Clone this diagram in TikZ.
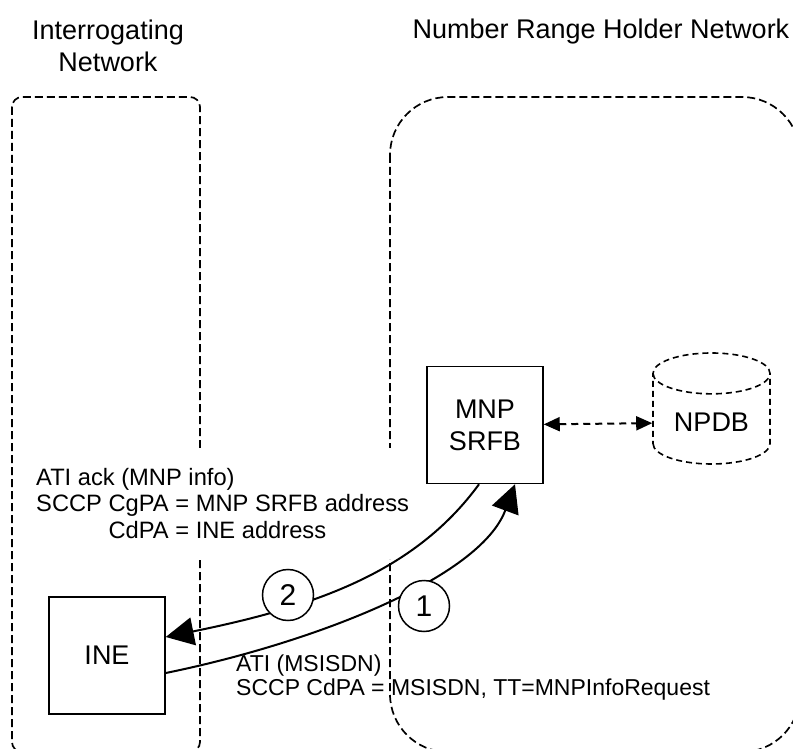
\documentclass[tikz,border=0pt]{standalone}
\usepackage{fontspec}
\setmainfont{Liberation Sans}
\usetikzlibrary{positioning,arrows.meta,shapes.geometric}

\newcommand\titlesize{\fontsize{27}{32}\selectfont}
\newcommand\boxsize{\fontsize{27}{32}\selectfont}
\newcommand\msgsize{\fontsize{23.7}{26.5}\selectfont}

\begin{document}
\begin{tikzpicture}[
  x=1pt, y=-1pt,
  region/.style={draw, line width=1.7pt, dash pattern=on 8pt off 4pt},
  element/.style={rectangle, draw, line width=1.5pt, minimum width=116pt,
                  minimum height=117pt, align=center, font=\boxsize},
  database/.style={cylinder, shape border rotate=90, aspect=0.5, draw,
                   line width=1.6pt, dash pattern=on 6pt off 4pt,
                   minimum width=117pt, minimum height=111pt, font=\boxsize},
  msg/.style={align=left, font=\msgsize, inner sep=0pt},
  seqnum/.style={circle, draw, fill=white, line width=1.5pt, minimum size=51pt,
                 inner sep=0pt, font=\fontsize{30}{30}\selectfont},
  flow/.style={line width=2pt, -{Triangle[length=28pt,width=28pt]}},
  >={Triangle[length=16pt,width=14pt]}
]
  \clip (0,0) rectangle (793,749);

  % network domains
  \draw[region, rounded corners=10pt] (12,97) rectangle (200,752);
  \draw[region, rounded corners=58pt] (390,97) rectangle (800,752);

  \node[font=\titlesize, align=center] (intnet) at (108,46) {Interrogating\\Network};
  \node[font=\titlesize, anchor=base] (nrhnet) at (601,39) {Number Range Holder Network};

  \node[element] (mnp) at (485,425) {MNP\\SRFB};
  \node[database] (npdb) at (711.5,422.5) {NPDB};
  \node[element] (ine) at (107,655.5) {INE};

  \draw[<->, line width=2pt, dash pattern=on 7pt off 5pt] (mnp) -- (npdb);

  \node[msg, fill=white, inner xsep=8pt, inner ysep=20pt, anchor=west] (ackmsg) at (28,503.5)
    {ATI ack (MNP info)\\SCCP CgPA = MNP SRFB address\\\hphantom{SCCP }CdPA = INE address};

  % request and answer
  \draw[flow] ([yshift=-17.5pt]ine.east) .. controls +(147,-30) and +(-35,94) .. ([xshift=30pt]mnp.south);
  \draw[flow] ([xshift=-6pt]mnp.south) .. controls +(-65,89) and +(147,-30) .. ([yshift=18.5pt]ine.east);

  \node[seqnum] (n2) at (288,595) {2};
  \node[seqnum] (n1) at (424,606) {1};

  \node[msg, font=\fontsize{23}{24}\selectfont, anchor=west] (atimsg) at (236,678)
    {ATI (MSISDN)\\SCCP CdPA = MSISDN, TT=MNPInfoRequest};
\end{tikzpicture}
\end{document}
